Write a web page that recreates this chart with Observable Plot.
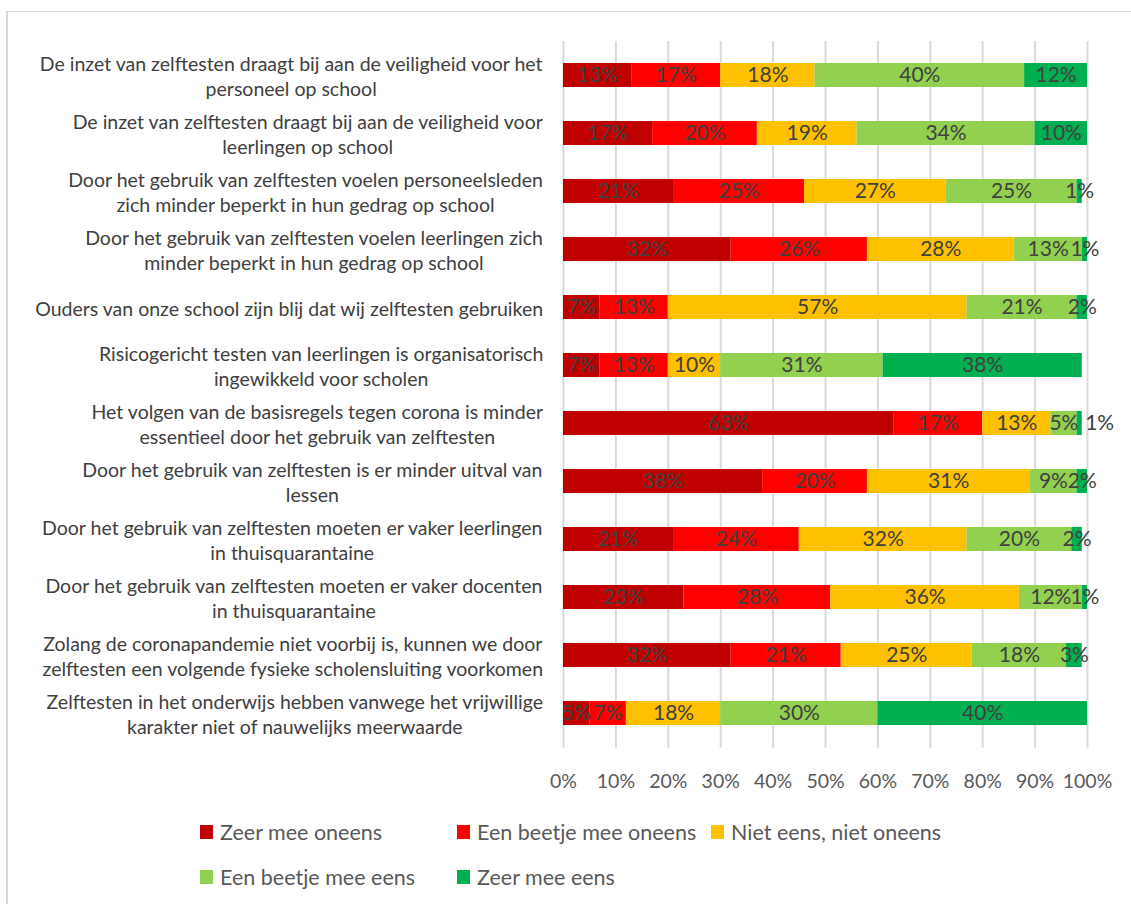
<!DOCTYPE html>
<html>
<head>
<meta charset="utf-8">
<script src="https://cdn.jsdelivr.net/npm/d3@7"></script>
<script src="https://cdn.jsdelivr.net/npm/@observablehq/plot@0.6"></script>
<style>
  body { margin: 0; background: #fff; font-family: Lato, "Open Sans", sans-serif; }
  #frame { position: absolute; left: 6px; top: 11px; width: 1200px; height: 1000px; border: 1px solid #d9d9d9; border-width: 1px 0 0 2px; }
  #chart { position: absolute; left: 0; top: 0; }
  #legend { position: absolute; left: 200px; top: 809px; display: grid; grid-template-columns: 257px 254px auto; grid-auto-rows: 45px; }
  .item { display: flex; align-items: center; font-size: 21.5px; color: #595959; white-space: nowrap; }
  .sw { width: 13px; height: 14px; margin-right: 7px; flex: none; }
</style>
</head>
<body>
<div id="frame"></div>
<div id="chart"></div>
<div id="legend"></div>
<script>
const questions = [
  "De inzet van zelftesten draagt bij aan de veiligheid voor het\npersoneel op school",
  "De inzet van zelftesten draagt bij aan de veiligheid voor\nleerlingen op school",
  "Door het gebruik van zelftesten voelen personeelsleden\nzich minder beperkt in hun gedrag op school",
  "Door het gebruik van zelftesten voelen leerlingen zich\nminder beperkt in hun gedrag op school",
  "Ouders van onze school zijn blij dat wij zelftesten gebruiken",
  "Risicogericht testen van leerlingen is organisatorisch\ningewikkeld voor scholen",
  "Het volgen van de basisregels tegen corona is minder\nessentieel door het gebruik van zelftesten",
  "Door het gebruik van zelftesten is er minder uitval van\nlessen",
  "Door het gebruik van zelftesten moeten er vaker leerlingen\nin thuisquarantaine",
  "Door het gebruik van zelftesten moeten er vaker docenten\nin thuisquarantaine",
  "Zolang de coronapandemie niet voorbij is, kunnen we door\nzelftesten een volgende fysieke scholensluiting voorkomen",
  "Zelftesten in het onderwijs hebben vanwege het vrijwillige\nkarakter niet of nauwelijks meerwaarde"
];
const categories = ["Zeer mee oneens", "Een beetje mee oneens", "Niet eens, niet oneens", "Een beetje mee eens", "Zeer mee eens"];
const colors = ["#C00000", "#FF0000", "#FFC000", "#92D050", "#00B050"];

const zeerMeeOneens   = [13, 17, 21, 32, 7, 7, 63, 38, 21, 23, 32, 5];
const beetjeMeeOneens = [17, 20, 25, 26, 13, 13, 17, 20, 24, 28, 21, 7];
const nietEensNiet    = [18, 19, 27, 28, 57, 10, 13, 31, 32, 36, 25, 18];
const beetjeMeeEens   = [40, 34, 25, 13, 21, 31, 5, 9, 20, 12, 18, 30];
const zeerMeeEens     = [12, 10, 1, 1, 2, 38, 1, 2, 2, 1, 3, 40];
const xTicks = [0, 10, 20, 30, 40, 50, 60, 70, 80, 90, 100];

const series = [zeerMeeOneens, beetjeMeeOneens, nietEensNiet, beetjeMeeEens, zeerMeeEens];
const data = [];
questions.forEach((q, i) => {
  categories.forEach((c, j) => {
    data.push({question: q, category: c, value: series[j][i]});
  });
});

// the one data label that the original nudges to the right of its bar
const isShifted = d => d.question === questions[6] && d.category === categories[4];

const labelFont = 19.5;
const fontFamily = "Lato, 'Open Sans', sans-serif";
const ctx = document.createElement("canvas").getContext("2d");
ctx.font = `${labelFont}px Lato`;
const blockWidth = q => Math.max(...q.split("\n").map(l => ctx.measureText(l).width));
const labelGap = 20;

const labelMarks = questions.map(q =>
  Plot.text([q], {y: d => d, text: d => d, frameAnchor: "left", textAnchor: "middle",
    dx: -labelGap - blockWidth(q) / 2, lineHeight: 1.28, fontSize: labelFont, fill: "#404040"})
);

const valueText = d => (d.value + "%");

const chart = Plot.plot({
  width: 1131,
  height: 800,
  marginLeft: 563,
  marginRight: 44,
  marginTop: 41,
  marginBottom: 52.5,
  style: {fontFamily, background: "transparent"},
  x: {domain: [0, 100], axis: null},
  y: {domain: questions, paddingInner: 0.59, paddingOuter: 0.295, axis: null},
  color: {domain: categories, range: colors},
  marks: [
    Plot.gridX(xTicks, {stroke: "#d9d9d9", strokeOpacity: 1, strokeWidth: 2}),
    Plot.barX(data, Plot.stackX({y: "question", x: "value", fill: "category", order: null})),
    Plot.text(data, Plot.stackX({y: "question", x: "value", z: "category", order: null,
      text: d => isShifted(d) ? "" : valueText(d), fill: "#404040", fontSize: 21})),
    Plot.text(data, Plot.stackX({y: "question", x: "value", z: "category", order: null,
      text: d => isShifted(d) ? valueText(d) : "", fill: "#404040", fontSize: 21, dx: 20})),
    Plot.axisX(xTicks, {tickSize: 0, tickPadding: 26, tickFormat: d => d + "%", fontSize: 19.5, fill: "#595959", label: null}),
    ...labelMarks
  ]
});
document.getElementById("chart").appendChild(chart);

const legend = document.getElementById("legend");
categories.forEach((c, i) => {
  const item = document.createElement("div");
  item.className = "item";
  const sw = document.createElement("span");
  sw.className = "sw";
  sw.style.background = colors[i];
  const t = document.createElement("span");
  t.textContent = c;
  item.appendChild(sw);
  item.appendChild(t);
  legend.appendChild(item);
});
</script>
</body>
</html>
